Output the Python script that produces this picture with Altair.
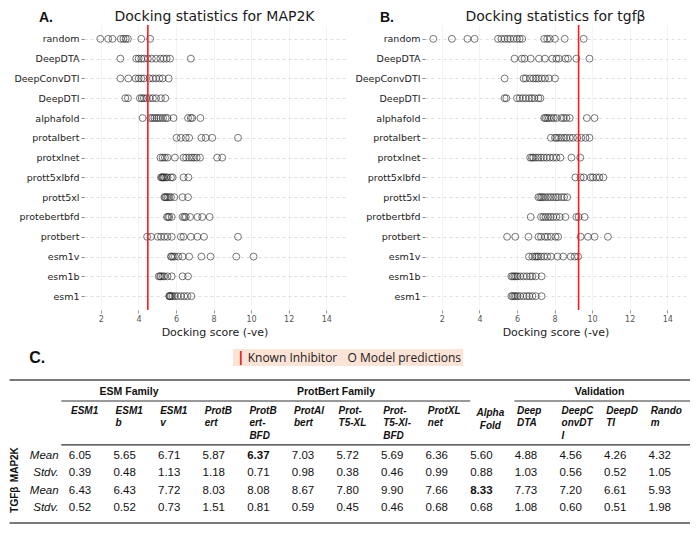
import altair as alt
import pandas as pd

# ---------------- strip-plot data (docking score, -ve) ----------------
models_A = ["random", "DeepDTA", "DeepConvDTI", "DeepDTI", "alphafold", "protalbert",
            "protxlnet", "prott5xlbfd", "prott5xl", "protebertbfd", "protbert",
            "esm1v", "esm1b", "esm1"]
models_B = ["random", "DeepDTA", "DeepConvDTI", "DeepDTI", "alphafold", "protalbert",
            "protxlnet", "prott5xlbfd", "prott5xl", "protbertbfd", "protbert",
            "esm1v", "esm1b", "esm1"]

A_random = [1.97, 2.39, 2.62, 3.06, 3.20, 3.32, 3.44, 4.15, 4.62]
A_deepdta = [3.04, 3.88, 4.01, 4.15, 4.29, 4.50, 4.71, 4.94, 5.17, 5.34, 5.50, 5.68, 6.79]
A_deepconvdti = [3.04, 3.46, 3.85, 4.01, 4.15, 4.29, 4.59, 4.77, 4.94, 5.12, 5.29, 5.61]
A_deepdti = [3.30, 3.44, 4.08, 4.18, 4.29, 4.43, 4.59, 4.77, 4.94, 5.20, 5.43]
A_alphafold = [4.22, 4.64, 4.74, 4.85, 4.96, 5.06, 5.17, 5.31, 5.45, 5.55, 5.87, 6.64, 6.79, 6.87, 7.30]
A_protalbert = [6.03, 6.26, 6.52, 6.70, 7.35, 7.58, 7.93, 9.30]
A_protxlnet = [5.17, 5.29, 5.41, 5.55, 5.94, 6.40, 6.54, 6.70, 6.84, 6.96, 7.10, 7.28, 8.19, 8.46]
A_prott5xlbfd = [5.20, 5.25, 5.29, 5.33, 5.38, 5.47, 5.55, 5.73, 5.82, 6.40, 6.66]
A_prott5xl = [5.38, 5.42, 5.47, 5.55, 5.64, 5.73, 5.91, 6.35, 6.64]
A_protbertbfd = [5.52, 5.58, 5.64, 5.77, 6.35, 6.44, 6.52, 6.75, 7.14, 7.40, 7.79]
A_protbert = [4.46, 4.67, 5.03, 5.20, 5.38, 5.55, 5.77, 6.26, 6.40, 6.79, 7.14, 7.49, 9.30]
A_esm1v = [5.73, 5.76, 5.84, 5.94, 6.12, 6.35, 6.70, 7.35, 7.84, 9.21, 10.13]
A_esm1b = [5.08, 5.15, 5.20, 5.30, 5.38, 5.55, 5.77, 6.35, 6.64]
A_esm1 = [5.64, 5.66, 5.68, 5.73, 5.82, 5.94, 6.08, 6.26, 6.44, 6.61, 6.82]

B_random = [1.54, 2.53, 3.36, 3.74, 4.99, 5.17, 5.34, 5.50, 5.64, 5.82, 6.00, 6.14, 6.28,
            7.45, 7.61, 7.75, 8.02, 8.54, 9.55]
B_deepdta = [5.87, 6.26, 6.40, 6.73, 7.17, 7.49, 7.88, 8.10, 8.23, 8.58, 8.72, 9.16, 9.86]
B_deepconvdti = [5.34, 6.35, 6.47, 6.70, 6.87, 7.01, 7.14, 7.31, 7.49, 7.70, 8.02]
B_deepdti = [5.34, 5.43, 6.00, 6.14, 6.31, 6.47, 6.65, 6.79, 6.93, 7.14, 7.25]
B_alphafold = [7.45, 7.52, 7.61, 7.70, 7.84, 7.96, 8.10, 8.37, 8.49, 8.63, 8.81, 9.72, 10.13]
B_protalbert = [7.81, 8.02, 8.10, 8.23, 8.37, 8.51, 8.63, 8.81, 8.98, 9.21, 9.42, 9.65, 9.86]
B_protxlnet = [6.70, 6.79, 6.87, 7.00, 7.14, 7.28, 7.42, 7.58, 7.75, 7.93, 8.10, 8.31, 8.90, 9.37]
B_prott5xlbfd = [9.11, 9.39, 9.55, 9.92, 10.04, 10.22, 10.39, 10.60]
B_prott5xl = [7.14, 7.23, 7.31, 7.40, 7.52, 7.66, 7.79, 7.93, 8.07, 8.19, 8.37, 8.51, 8.67]
B_protbertbfd = [6.73, 7.28, 7.40, 7.52, 7.66, 7.79, 7.93, 8.10, 8.28, 8.58, 9.16, 9.28, 9.60]
B_protbert = [5.47, 5.91, 6.61, 7.14, 7.28, 7.49, 7.63, 7.81, 8.05, 8.19, 9.39, 9.78, 10.13, 10.84]
B_esm1v = [6.64, 6.82, 6.96, 7.05, 7.14, 7.28, 7.44, 7.61, 7.81, 8.16, 8.46, 8.86, 9.07, 9.25]
B_esm1b = [5.70, 5.77, 5.86, 5.94, 6.03, 6.17, 6.35, 6.52, 6.70, 6.82, 7.00, 7.31]
B_esm1 = [5.70, 5.77, 5.86, 5.94, 6.03, 6.17, 6.35, 6.52, 6.65, 6.82, 7.00, 7.31]

inhibitor_A = 4.50
inhibitor_B = 9.28
x_ticks = [2, 4, 6, 8, 10, 12, 14]

# ---------------- table data ----------------
table_headers = ["ESM1", "ESM1\nb", "ESM1\nv", "ProtB\nert", "ProtB\nert-\nBFD", "ProtAl\nbert",
                 "Prot-\nT5-XL", "Prot-\nT5-Xl-\nBFD", "ProtXL\nnet", "Alpha\nFold",
                 "Deep\nDTA", "DeepC\nonvDT\nI", "DeepD\nTI", "Rando\nm"]
map2k_mean = [6.05, 5.65, 6.71, 5.87, 6.37, 7.03, 5.72, 5.69, 6.36, 5.60, 4.88, 4.56, 4.26, 4.32]
map2k_stdv = [0.39, 0.48, 1.13, 1.18, 0.71, 0.98, 0.38, 0.46, 0.99, 0.88, 1.03, 0.56, 0.52, 1.05]
tgfb_mean = [6.43, 6.43, 7.72, 8.03, 8.08, 8.67, 7.80, 9.90, 7.66, 8.33, 7.73, 7.20, 6.61, 5.93]
tgfb_stdv = [0.52, 0.52, 0.73, 1.51, 0.81, 0.59, 0.45, 0.46, 0.68, 0.68, 1.08, 0.60, 0.51, 1.98]
bold_cells = [(0, 4), (2, 9)]  # (row, column) shown in bold
group_labels = ["ESM Family", "ProtBert Family", "Validation"]
target_labels = ["MAP2K", "TGFβ"]
stat_labels = ["Mean", "Stdv.", "Mean", "Stdv."]

SANS = "DejaVu Sans"
ARIAL = "Liberation Sans"

A_lists = [A_random, A_deepdta, A_deepconvdti, A_deepdti, A_alphafold, A_protalbert, A_protxlnet,
           A_prott5xlbfd, A_prott5xl, A_protbertbfd, A_protbert, A_esm1v, A_esm1b, A_esm1]
B_lists = [B_random, B_deepdta, B_deepconvdti, B_deepdti, B_alphafold, B_protalbert, B_protxlnet,
           B_prott5xlbfd, B_prott5xl, B_protbertbfd, B_protbert, B_esm1v, B_esm1b, B_esm1]


def long_df(models, lists):
    rows = []
    for m, vals in zip(models, lists):
        for v in vals:
            rows.append({"model": m, "score": v})
    return pd.DataFrame(rows)


PW, PH = 261, 285


def panel(models, lists, inhibitor, title, letter):
    df = long_df(models, lists)
    xenc = alt.X("score:Q",
                 scale=alt.Scale(domain=[1.1, 15.0], nice=False, zero=False),
                 axis=alt.Axis(values=x_ticks, title="Docking score (-ve)", grid=True,
                               gridColor="#f0f0f0", gridWidth=0.8, domain=False,
                               tickSize=3, tickColor="#999999", labelFontSize=8,
                               labelColor="#555555", labelFont=SANS, labelPadding=2,
                               titleFont=SANS, titleFontSize=11, titleFontWeight="normal",
                               titleColor="#222222", titlePadding=3))
    yenc = alt.Y("model:N", sort=models,
                 scale=alt.Scale(domain=models, type="point", padding=0.7),
                 axis=alt.Axis(title=None, grid=True, gridDash=[3, 3], gridColor="#d4d4d4",
                               gridWidth=0.8, domain=False, tickSize=3, tickColor="#888888",
                               labelFont=SANS, labelFontSize=9.5, labelColor="#222222",
                               labelPadding=2))
    pts = alt.Chart(df).mark_point(shape="circle", filled=False, size=48, strokeWidth=0.8,
                                   color="#2a2a2a", opacity=0.8).encode(x=xenc, y=yenc)
    rule = alt.Chart(pd.DataFrame({"score": [inhibitor]})).mark_rule(
        color="#ff1a1a", strokeWidth=1.6).encode(x="score:Q")
    lab = alt.Chart(pd.DataFrame({"t": [letter]})).mark_text(
        font=ARIAL, fontSize=14, fontWeight="bold", align="left", baseline="middle",
        color="#111111").encode(x=alt.value(-45), y=alt.value(-7), text="t:N")
    ttl = alt.Chart(pd.DataFrame({"t": [title]})).mark_text(
        font=SANS, fontSize=14, align="center", baseline="middle",
        color="#1a1a1a").encode(x=alt.value(PW / 2), y=alt.value(-8), text="t:N")
    return alt.layer(pts, rule, lab, ttl).properties(width=PW, height=PH)


top = alt.hconcat(
    panel(models_A, A_lists, inhibitor_A, "Docking statistics for MAP2K", "A."),
    panel(models_B, B_lists, inhibitor_B, "Docking statistics for tgfβ", "B."),
    spacing=9)

# ---------------- bottom: legend + table ----------------
BW = 606
TX = alt.Scale(domain=[0.09, 0.09 + BW / 44.6], nice=False, zero=False)
TY = alt.Scale(domain=[-6.4, 3.95], nice=False, zero=False, reverse=True)
LEFT, RIGHT = -1.58, 0.09 + BW / 44.6


def X(f="i"):
    return alt.X(f + ":Q", scale=TX, axis=None)


def Y(f="r"):
    return alt.Y(f + ":Q", scale=TY, axis=None)


cells = []
for r, vals in enumerate([map2k_mean, map2k_stdv, tgfb_mean, tgfb_stdv]):
    for i, v in enumerate(vals):
        cells.append({"i": i, "r": r, "txt": f"{v:.2f}", "bold": (r, i) in bold_cells})
cells = pd.DataFrame(cells)

hdr = pd.DataFrame({"i": list(range(len(table_headers))), "r": -2.86, "txt": table_headers})
hdr_main = hdr[hdr["txt"] != "Alpha\nFold"]
hdr_alpha = hdr[hdr["txt"] == "Alpha\nFold"].assign(r=-2.72)

grp = pd.DataFrame({"i": [1.1, 5.74, 11.65], "r": -3.66, "txt": group_labels})
stat = pd.DataFrame({"i": -0.48, "r": [0, 1, 2, 3], "txt": stat_labels})
tgt = pd.DataFrame({"i": -1.45, "r": [0.5, 2.5], "txt": target_labels})

thick_rules = pd.DataFrame({"i": [LEFT, LEFT], "i2": [RIGHT, RIGHT], "r": [-4.34, 3.83]})
thin_rules = pd.DataFrame({"i": [-0.42, 9.74], "i2": [8.75, RIGHT], "r": [-3.14, -3.14]})
hdr_rule = pd.DataFrame({"i": [-0.42], "i2": [RIGHT], "r": [-0.63]})

legend_box = pd.DataFrame({"i": [3.43], "i2": [8.59], "r": [-6.11], "r2": [-5.14]})
legend_bar = pd.DataFrame({"i": [3.52], "r": [-5.62], "txt": ["|"]})
legend_txt = pd.DataFrame({"i": [3.76, 6.0], "r": [-5.62, -5.62],
                           "txt": ["Known Inhibitor", "O Model predictions"]})
c_lab = pd.DataFrame({"i": [-1.14], "r": [-5.6], "txt": ["C."]})

layers = [
    alt.Chart(legend_box).mark_rect(color="#fbe3d6").encode(x=X(), x2="i2:Q", y=Y(), y2="r2:Q"),
    alt.Chart(legend_bar).mark_text(font="Open Sans", fontSize=14, color="#e01010",
                                    align="left", baseline="middle", fontWeight="bold")
    .encode(x=X(), y=Y(), text="txt:N"),
    alt.Chart(legend_txt).mark_text(font="Open Sans", fontSize=12, color="#1a1a1a",
                                    align="left", baseline="middle")
    .encode(x=X(), y=Y(), text="txt:N"),
    alt.Chart(c_lab).mark_text(font=ARIAL, fontSize=16, fontWeight="bold", color="#111111",
                               align="left", baseline="middle")
    .encode(x=X(), y=Y(), text="txt:N"),
    alt.Chart(thick_rules).mark_rule(color="#7a7a7a", strokeWidth=2)
    .encode(x=X(), x2="i2:Q", y=Y()),
    alt.Chart(thin_rules).mark_rule(color="#333333", strokeWidth=1)
    .encode(x=X(), x2="i2:Q", y=Y()),
    alt.Chart(hdr_rule).mark_rule(color="#333333", strokeWidth=1.4)
    .encode(x=X(), x2="i2:Q", y=Y()),
    alt.Chart(grp).mark_text(font=ARIAL, fontSize=10.5, fontWeight="bold", color="#111111",
                             align="center", baseline="middle")
    .encode(x=X(), y=Y(), text="txt:N"),
    alt.Chart(hdr_main).mark_text(font=ARIAL, fontSize=10, fontWeight="bold", fontStyle="italic",
                                  color="#111111", align="left", baseline="top",
                                  lineBreak="\n", lineHeight=12.5, dx=-9)
    .encode(x=X(), y=Y(), text="txt:N"),
    alt.Chart(hdr_alpha).mark_text(font=ARIAL, fontSize=10, fontWeight="bold", fontStyle="italic",
                                   color="#111111", align="center", baseline="top",
                                   lineBreak="\n", lineHeight=12.5, dx=9)
    .encode(x=X(), y=Y(), text="txt:N"),
    alt.Chart(cells[~cells["bold"]]).mark_text(font=ARIAL, fontSize=11.5, color="#111111",
                                               align="center", baseline="middle")
    .encode(x=X(), y=Y(), text="txt:N"),
    alt.Chart(cells[cells["bold"]]).mark_text(font=ARIAL, fontSize=11.5, fontWeight="bold",
                                              color="#111111", align="center", baseline="middle")
    .encode(x=X(), y=Y(), text="txt:N"),
    alt.Chart(stat).mark_text(font=ARIAL, fontSize=11.5, fontStyle="italic", color="#111111",
                              align="right", baseline="middle")
    .encode(x=X(), y=Y(), text="txt:N"),
    alt.Chart(tgt).mark_text(font=ARIAL, fontSize=10, fontWeight="bold", color="#111111",
                             align="center", baseline="middle", angle=270)
    .encode(x=X(), y=Y(), text="txt:N"),
]

bottom = alt.layer(*layers).properties(width=BW, height=181)

chart = alt.vconcat(top, bottom, spacing=7).properties(
    padding={"top": 2, "left": 0, "right": 0, "bottom": 0}, background="white"
).configure_view(stroke=None)

chart.save("out.html", embed_options={"renderer": "svg", "actions": False})
